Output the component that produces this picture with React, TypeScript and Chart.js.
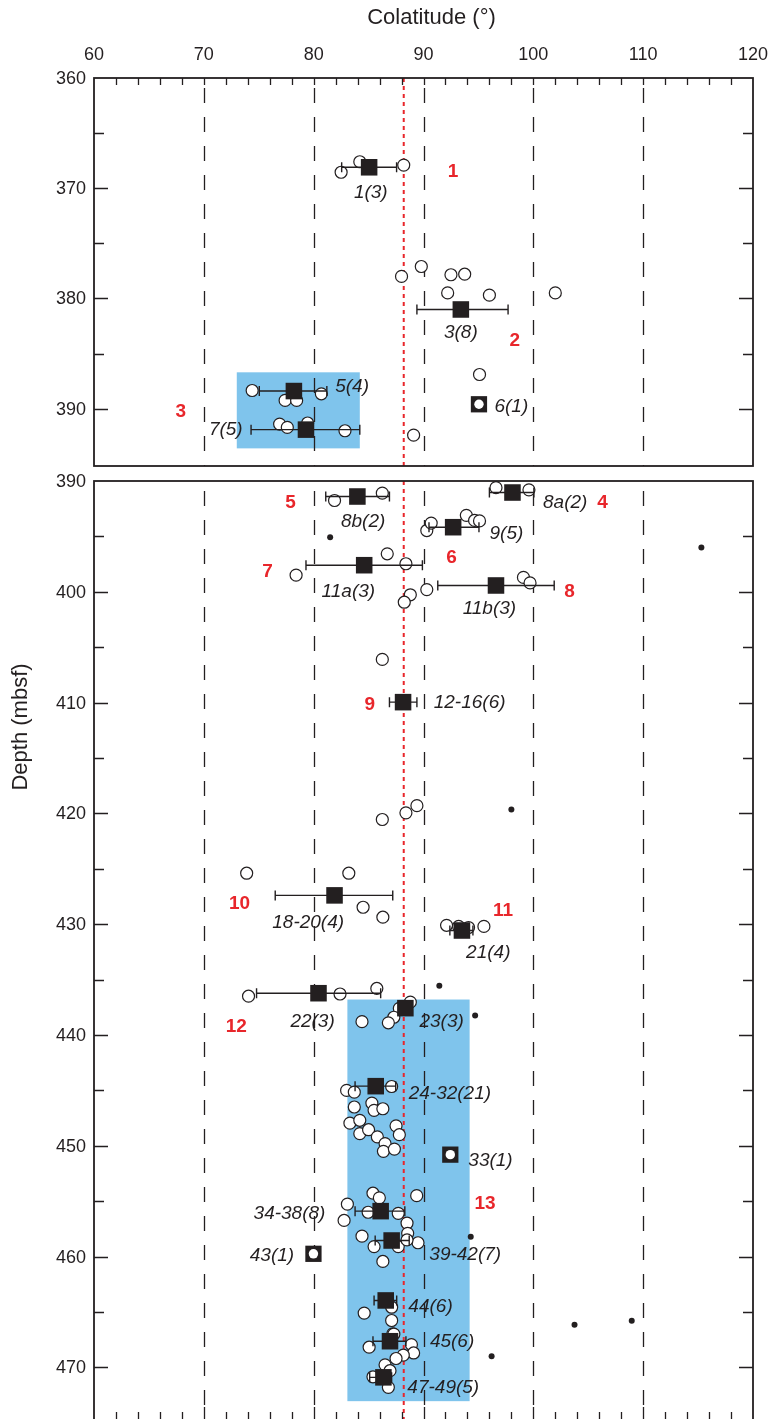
import React, { useEffect, useRef } from 'react';
import { Chart, registerables } from 'chart.js';

Chart.register(...registerables);

const FONT = '"Liberation Sans", Arial, Helvetica, sans-serif';
const INK = '#231f20';
const RED = '#e8262b';
const BLUE = '#7fc4ec';

// ---------- axes ----------
const colatMin = 60;
const colatMax = 120;
const colatTickLabels = [60, 70, 80, 90, 100, 110, 120];
const colatGrid = [70, 80, 90, 100, 110];
const refColat = 88.2;
const topDepthRange = [360, 395.2];
const bottomDepthRange = [390, 474.75];
const topDepthTickLabels = [360, 370, 380, 390];
const bottomDepthTickLabels = [390, 400, 410, 420, 430, 440, 450, 460, 470];

// ---------- top panel ----------
const topSamples: [number, number][] = [
  [82.5, 368.55], [84.2, 367.6], [88.2, 367.9],
  [88.0, 378.0], [89.8, 377.1], [92.5, 377.85], [93.75, 377.8], [92.2, 379.5], [96.0, 379.7], [102.0, 379.5],
  [95.1, 386.9], [89.1, 392.4],
  [74.4, 388.35], [80.7, 388.65], [77.4, 389.25], [78.45, 389.25],
  [76.9, 391.4], [77.6, 391.7], [79.45, 391.3], [82.85, 392.0],
];
const topMeanColat = [85.05, 93.4, 78.2, 79.3];
const topMeanDepth = [368.1, 381.0, 388.4, 391.9];
const topMeanLow = [82.55, 89.4, 75.05, 74.3];
const topMeanHigh = [87.55, 97.7, 81.2, 84.2];
const topSingles: [number, number][] = [[95.05, 389.6]];
const topDots: [number, number][] = [];
const topLabels: [number, number, string][] = [
  [85.2, 370.45, '1(3)'], [93.4, 383.1, '3(8)'], [83.5, 388.0, '5(4)'],
  [98.0, 389.85, '6(1)'], [72.0, 391.9, '7(5)'],
];
const topUnits: [number, number, string][] = [
  [92.7, 368.5, '1'], [98.3, 383.8, '2'], [67.9, 390.25, '3'],
];
const topBoxes: [number, number, number, number][] = [[73.0, 84.2, 386.7, 393.6]];

// ---------- bottom panel ----------
const bottomSamples: [number, number][] = [
  [81.9, 391.76], [86.25, 391.1],
  [96.6, 390.6], [99.6, 390.8],
  [90.3, 394.47], [90.7, 393.8], [93.9, 393.1], [94.65, 393.56], [95.1, 393.6],
  [78.4, 398.5], [86.7, 396.57], [88.4, 397.47],
  [90.3, 399.8], [88.8, 400.27], [88.25, 400.94],
  [99.1, 398.7], [99.7, 399.2],
  [86.25, 406.1],
  [89.4, 419.3], [88.4, 419.95], [86.25, 420.55],
  [73.9, 425.4], [83.2, 425.4], [84.5, 428.47], [86.3, 429.37],
  [92.1, 430.1], [93.2, 430.2], [94.1, 430.3], [95.5, 430.2],
  [74.07, 436.5], [82.4, 436.3], [85.75, 435.8],
  [88.8, 437.04], [87.8, 437.6], [87.3, 438.4], [86.8, 438.9], [84.4, 438.8],
  [83.0, 445.0], [83.7, 445.16], [87.1, 444.65], [83.7, 446.5], [85.3, 446.15], [85.5, 446.8],
  [86.3, 446.66], [83.3, 447.96], [84.2, 447.7], [84.2, 448.9], [85.0, 448.55], [87.5, 448.2],
  [87.8, 449.0], [85.8, 449.2], [86.5, 449.8], [86.35, 450.5], [87.35, 450.3],
  [83.07, 455.27], [82.77, 456.74], [85.4, 454.28], [85.98, 454.7], [84.96, 456.0], [87.7, 456.1],
  [89.38, 454.5], [88.5, 456.98],
  [84.4, 458.16], [85.5, 459.1], [87.7, 459.1], [88.56, 457.9], [89.5, 458.75], [86.3, 460.44], [88.5, 458.5],
  [84.6, 465.1], [87.1, 464.57], [87.1, 465.77], [87.2, 466.97],
  [85.05, 468.18], [88.9, 467.94], [89.1, 468.7], [88.16, 468.9], [87.5, 469.2], [87.3, 467.0],
  [85.4, 470.85], [86.5, 469.77], [86.95, 470.3], [86.8, 471.8],
];
const bottomMeanColat = [83.98, 98.1, 92.7, 84.6, 96.6, 88.14, 81.9, 93.5, 80.44, 88.35, 85.65, 86.1, 87.1, 86.56, 86.95, 86.35];
const bottomMeanDepth = [391.4, 391.04, 394.17, 397.6, 399.43, 409.96, 427.4, 430.57, 436.23, 437.58, 444.62, 455.9, 458.55, 463.96, 467.64, 470.9];
const bottomMeanLow = [81.1, 96.0, 90.5, 79.3, 91.3, 86.9, 76.5, 92.4, 74.8, 88.35, 83.77, 83.77, 85.6, 85.5, 85.4, 85.1];
const bottomMeanHigh = [86.9, 100.05, 95.05, 89.9, 101.9, 89.4, 87.2, 94.5, 86.1, 88.35, 87.47, 88.3, 88.7, 87.56, 88.4, 87.1];
const bottomSingles: [number, number][] = [[92.44, 450.8], [79.98, 459.75]];
const bottomDots: [number, number][] = [
  [81.5, 395.07], [115.3, 396.0], [98.0, 419.65], [91.44, 435.56], [94.7, 438.24],
  [94.3, 458.2], [96.2, 469.0], [103.75, 466.15], [108.96, 465.8],
];
const bottomLabels: [number, number, string][] = [
  [84.5, 393.65, '8b(2)'], [102.9, 392.0, '8a(2)'], [97.55, 394.77, '9(5)'],
  [83.16, 399.97, '11a(3)'], [96.0, 401.57, '11b(3)'], [94.2, 410.0, '12-16(6)'],
  [79.5, 429.87, '18-20(4)'], [95.9, 432.6, '21(4)'], [79.9, 438.84, '22(3)'],
  [91.65, 438.84, '23(3)'], [92.4, 445.3, '24-32(21)'], [96.1, 451.33, '33(1)'],
  [77.8, 456.14, '34-38(8)'], [93.8, 459.84, '39-42(7)'], [76.2, 459.9, '43(1)'],
  [90.64, 464.57, '44(6)'], [92.6, 467.72, '45(6)'], [91.8, 471.84, '47-49(5)'],
];
const bottomUnits: [number, number, string][] = [
  [77.9, 392.0, '5'], [106.3, 392.0, '4'], [92.55, 396.97, '6'], [75.8, 398.2, '7'],
  [103.3, 399.97, '8'], [85.1, 410.2, '9'], [73.25, 428.2, '10'], [97.25, 428.8, '11'],
  [72.95, 439.3, '12'], [95.6, 455.2, '13'],
];
const bottomBoxes: [number, number, number, number][] = [[83.07, 94.2, 436.8, 473.05]];

type PanelCfg = {
  depthRange: number[];
  depthTickLabels: number[];
  samples: [number, number][];
  meanColat: number[];
  meanDepth: number[];
  meanLow: number[];
  meanHigh: number[];
  singles: [number, number][];
  dots: [number, number][];
  labels: [number, number, string][];
  units: [number, number, string][];
  boxes: [number, number, number, number][];
  topAxis: boolean;
  bottomTicks: boolean;
  padding: { top: number; bottom: number; left: number; right: number };
};

const pts = (arr: [number, number][]) => arr.map(([x, y]) => ({ x, y }));

function makePlugin(cfg: PanelCfg) {
  return {
    id: 'panelDecor',
    beforeDatasetsDraw(chart: any) {
      const { ctx, chartArea: a, scales } = chart;
      const xs = scales.x;
      const ys = scales.y;
      ctx.save();
      ctx.fillStyle = BLUE;
      for (const [x0, x1, y0, y1] of cfg.boxes) {
        const px0 = xs.getPixelForValue(x0);
        const px1 = xs.getPixelForValue(x1);
        const py0 = ys.getPixelForValue(y0);
        const py1 = ys.getPixelForValue(y1);
        ctx.fillRect(px0, py0, px1 - px0, py1 - py0);
      }
      ctx.strokeStyle = INK;
      ctx.lineWidth = 1.3;
      ctx.setLineDash([15, 14]);
      for (const g of colatGrid) {
        const px = Math.round(xs.getPixelForValue(g)) + 0.5;
        ctx.beginPath();
        ctx.moveTo(px, a.top + 10);
        ctx.lineTo(px, a.bottom);
        ctx.stroke();
      }
      ctx.strokeStyle = RED;
      ctx.lineWidth = 2;
      ctx.setLineDash([4, 4]);
      const rx = xs.getPixelForValue(refColat);
      ctx.beginPath();
      ctx.moveTo(rx, a.top);
      ctx.lineTo(rx, a.bottom);
      ctx.stroke();
      ctx.restore();
    },
    afterDatasetDraw(chart: any, args: any) {
      if (chart.data.datasets[args.index].label !== 'samples') return;
      const { ctx, scales } = chart;
      const xs = scales.x;
      const ys = scales.y;
      ctx.save();
      ctx.strokeStyle = INK;
      ctx.lineWidth = 1.4;
      for (let i = 0; i < cfg.meanColat.length; i++) {
        if (cfg.meanHigh[i] - cfg.meanLow[i] < 0.01) continue;
        const py = ys.getPixelForValue(cfg.meanDepth[i]);
        const p0 = xs.getPixelForValue(cfg.meanLow[i]);
        const p1 = xs.getPixelForValue(cfg.meanHigh[i]);
        ctx.beginPath();
        ctx.moveTo(p0, py);
        ctx.lineTo(p1, py);
        ctx.moveTo(p0, py - 5);
        ctx.lineTo(p0, py + 5);
        ctx.moveTo(p1, py - 5);
        ctx.lineTo(p1, py + 5);
        ctx.stroke();
      }
      ctx.restore();
    },
    afterDatasetsDraw(chart: any) {
      const { ctx, chartArea: a, scales } = chart;
      const xs = scales.x;
      const ys = scales.y;
      ctx.save();
      ctx.textAlign = 'center';
      ctx.textBaseline = 'middle';
      // group labels
      ctx.fillStyle = INK;
      ctx.font = `italic 19px ${FONT}`;
      for (const [x, y, t] of cfg.labels) {
        ctx.fillText(t, xs.getPixelForValue(x), ys.getPixelForValue(y));
      }
      ctx.fillStyle = RED;
      ctx.font = `bold 19px ${FONT}`;
      for (const [x, y, t] of cfg.units) {
        ctx.fillText(t, xs.getPixelForValue(x), ys.getPixelForValue(y));
      }
      // frame
      ctx.strokeStyle = INK;
      ctx.lineWidth = 1.8;
      ctx.strokeRect(a.left, a.top, a.right - a.left, a.bottom - a.top);
      // ticks
      ctx.lineWidth = 1.3;
      ctx.beginPath();
      for (let v = colatMin + 2; v < colatMax; v += 2) {
        const px = Math.round(xs.getPixelForValue(v)) + 0.5;
        if (cfg.topAxis) {
          ctx.moveTo(px, a.top);
          ctx.lineTo(px, a.top + 7);
        }
        if (cfg.bottomTicks) {
          const len = v % 10 === 0 ? 13 : 8;
          ctx.moveTo(px, a.bottom);
          ctx.lineTo(px, a.bottom - len);
        }
      }
      const [dMin, dMax] = cfg.depthRange;
      for (let v = Math.ceil(dMin / 5) * 5; v <= dMax; v += 5) {
        const py = Math.round(ys.getPixelForValue(v)) + 0.5;
        if (py - a.top < 3 || a.bottom - py < 3) continue;
        const len = v % 10 === 0 ? 14 : 10;
        ctx.moveTo(a.left, py);
        ctx.lineTo(a.left + len, py);
        ctx.moveTo(a.right, py);
        ctx.lineTo(a.right - len, py);
      }
      ctx.stroke();
      // tick labels
      ctx.fillStyle = INK;
      ctx.font = `18px ${FONT}`;
      if (cfg.topAxis) {
        for (const v of colatTickLabels) {
          ctx.fillText(String(v), xs.getPixelForValue(v), a.top - 23);
        }
        ctx.font = `22px ${FONT}`;
        ctx.fillText('Colatitude (°)', (a.left + a.right) / 2 + 8, 18);
        ctx.font = `18px ${FONT}`;
      }
      ctx.textAlign = 'right';
      for (const v of cfg.depthTickLabels) {
        ctx.fillText(String(v), a.left - 8, ys.getPixelForValue(v) + 1);
      }
      ctx.restore();
    },
  };
}

function Panel({ cfg, top, height }: { cfg: PanelCfg; top: number; height: number }) {
  const ref = useRef<HTMLCanvasElement>(null);
  useEffect(() => {
    const canvas = ref.current;
    if (!canvas) return;
    const chart = new Chart(canvas, {
      type: 'scatter',
      data: {
        datasets: [
          {
            label: 'singleDot',
            data: pts(cfg.singles),
            pointStyle: 'circle',
            pointRadius: 4.7,
            pointHoverRadius: 4.7,
            backgroundColor: '#ffffff',
            borderColor: '#ffffff',
            borderWidth: 0,
          },
          {
            label: 'singleBox',
            data: pts(cfg.singles),
            pointStyle: 'rect',
            pointRadius: 11.5,
            pointHoverRadius: 11.5,
            backgroundColor: INK,
            borderColor: INK,
            borderWidth: 0,
          },
          {
            label: 'means',
            data: cfg.meanColat.map((x, i) => ({ x, y: cfg.meanDepth[i] })),
            pointStyle: 'rect',
            pointRadius: 11.7,
            pointHoverRadius: 11.7,
            backgroundColor: INK,
            borderColor: INK,
            borderWidth: 0,
          },
          {
            label: 'dots',
            data: pts(cfg.dots),
            pointStyle: 'circle',
            pointRadius: 3,
            pointHoverRadius: 3,
            backgroundColor: INK,
            borderColor: INK,
            borderWidth: 0,
          },
          {
            label: 'samples',
            data: pts(cfg.samples),
            pointStyle: 'circle',
            pointRadius: 6,
            pointHoverRadius: 6,
            backgroundColor: '#ffffff',
            borderColor: INK,
            borderWidth: 1.2,
          },
        ],
      } as any,
      options: {
        responsive: false,
        maintainAspectRatio: false,
        animation: false,
        devicePixelRatio: 1,
        events: [],
        layout: { padding: cfg.padding, autoPadding: false },
        plugins: { legend: { display: false }, tooltip: { enabled: false } },
        scales: {
          x: { type: 'linear', min: colatMin, max: colatMax, display: false },
          y: { type: 'linear', reverse: true, min: cfg.depthRange[0], max: cfg.depthRange[1], display: false },
        },
      } as any,
      plugins: [makePlugin(cfg) as any],
    });
    return () => chart.destroy();
  }, []);
  return (
    <canvas
      ref={ref}
      width={770}
      height={height}
      style={{ position: 'absolute', left: 0, top, width: 770, height, display: 'block' }}
    />
  );
}

const topCfg: PanelCfg = {
  depthRange: topDepthRange,
  depthTickLabels: topDepthTickLabels,
  samples: topSamples,
  meanColat: topMeanColat,
  meanDepth: topMeanDepth,
  meanLow: topMeanLow,
  meanHigh: topMeanHigh,
  singles: topSingles,
  dots: topDots,
  labels: topLabels,
  units: topUnits,
  boxes: topBoxes,
  topAxis: true,
  bottomTicks: false,
  padding: { top: 78, bottom: 4, left: 94, right: 17 },
};

const bottomCfg: PanelCfg = {
  depthRange: bottomDepthRange,
  depthTickLabels: bottomDepthTickLabels,
  samples: bottomSamples,
  meanColat: bottomMeanColat,
  meanDepth: bottomMeanDepth,
  meanLow: bottomMeanLow,
  meanHigh: bottomMeanHigh,
  singles: bottomSingles,
  dots: bottomDots,
  labels: bottomLabels,
  units: bottomUnits,
  boxes: bottomBoxes,
  topAxis: false,
  bottomTicks: true,
  padding: { top: 11, bottom: 1, left: 94, right: 17 },
};

export default function App() {
  return (
    <div
      style={{
        position: 'absolute',
        left: 0,
        top: 0,
        width: 770,
        height: 1419,
        overflow: 'hidden',
        background: '#ffffff',
      }}
    >
      <Panel cfg={topCfg} top={0} height={470} />
      <Panel cfg={bottomCfg} top={470} height={951} />
      <div
        style={{
          position: 'absolute',
          left: -80,
          top: 714,
          width: 200,
          height: 26,
          lineHeight: '26px',
          textAlign: 'center',
          transform: 'rotate(-90deg)',
          fontFamily: FONT,
          fontSize: 22,
          color: INK,
          whiteSpace: 'nowrap',
        }}
      >
        Depth (mbsf)
      </div>
    </div>
  );
}
